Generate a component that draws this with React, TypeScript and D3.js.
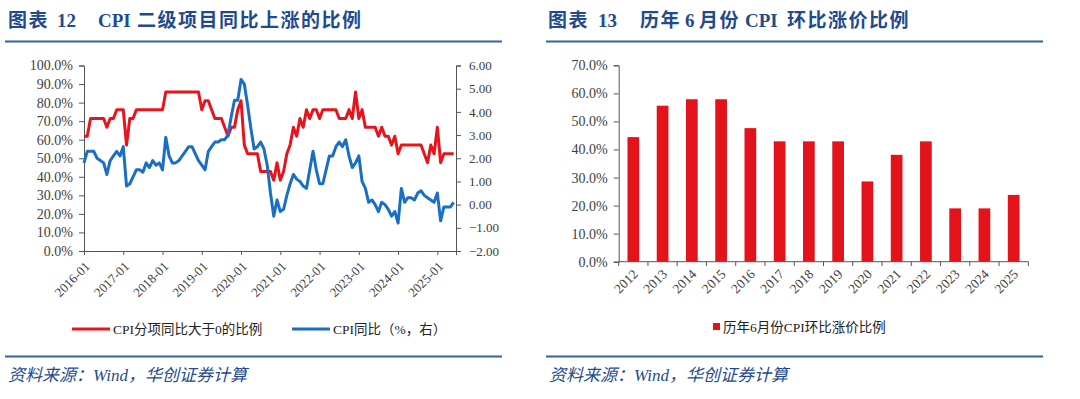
import React, { useEffect, useRef } from "react";
import * as d3 from "d3";

// ---- left chart: share of CPI sub-items with positive yoy (%), monthly from 2016-01
const share2016 = [61.9, 61.9, 71.4, 71.4, 71.4, 71.4, 71.4, 66.7, 71.4, 71.4, 76.2, 76.2];
const share2017 = [76.2, 57.1, 71.4, 71.4, 76.2, 76.2, 76.2, 76.2, 76.2, 76.2, 76.2, 76.2];
const share2018 = [76.2, 85.7, 85.7, 85.7, 85.7, 85.7, 85.7, 85.7, 85.7, 85.7, 85.7, 85.7];
const share2019 = [76.2, 81.0, 81.0, 76.2, 71.4, 71.4, 71.4, 66.7, 61.9, 66.7, 66.7, 76.2];
const share2020 = [81.0, 57.1, 52.4, 52.4, 52.4, 52.4, 42.9, 42.9, 42.9, 42.9, 38.1, 47.6];
const share2021 = [38.1, 42.9, 52.4, 57.1, 66.7, 61.9, 71.4, 66.7, 76.2, 71.4, 76.2, 76.2];
const share2022 = [71.4, 76.2, 76.2, 76.2, 76.2, 76.2, 71.4, 71.4, 71.4, 76.2, 71.4, 85.7];
const share2023 = [71.4, 76.2, 66.7, 66.7, 66.7, 66.7, 61.9, 66.7, 61.9, 61.9, 57.1, 61.9];
const share2024 = [52.4, 57.1, 57.1, 57.1, 57.1, 57.1, 57.1, 57.1, 52.4, 47.6, 57.1, 52.4];
const share2025 = [66.7, 47.6, 52.4, 52.4, 52.4, 52.4];

// CPI yoy (%), right axis
const cpi2016 = [1.8, 2.3, 2.3, 2.3, 2.0, 1.9, 1.8, 1.3, 1.9, 2.1, 2.3, 2.1];
const cpi2017 = [2.5, 0.8, 0.9, 1.2, 1.5, 1.5, 1.4, 1.8, 1.6, 1.9, 1.7, 1.8];
const cpi2018 = [1.5, 2.9, 2.1, 1.8, 1.8, 1.9, 2.1, 2.3, 2.5, 2.5, 2.2, 1.9];
const cpi2019 = [1.7, 1.5, 2.3, 2.5, 2.7, 2.7, 2.8, 2.8, 3.0, 3.8, 4.5, 4.5];
const cpi2020 = [5.4, 5.2, 4.3, 3.3, 2.4, 2.5, 2.7, 2.4, 1.7, 0.5, -0.5, 0.2];
const cpi2021 = [-0.3, -0.2, 0.4, 0.9, 1.3, 1.1, 1.0, 0.8, 0.7, 1.5, 2.3, 1.5];
const cpi2022 = [0.9, 0.9, 1.5, 2.1, 2.1, 2.5, 2.7, 2.5, 2.8, 2.1, 1.6, 1.8];
const cpi2023 = [2.1, 1.0, 0.7, 0.1, 0.2, 0.0, -0.3, 0.1, 0.0, -0.2, -0.5, -0.3];
const cpi2024 = [-0.8, 0.7, 0.1, 0.3, 0.3, 0.2, 0.5, 0.6, 0.4, 0.3, 0.2, 0.1];
const cpi2025 = [0.5, -0.7, -0.1, -0.1, -0.1, 0.1];

const xTickLabels = ["2016-01", "2017-01", "2018-01", "2019-01", "2020-01",
  "2021-01", "2022-01", "2023-01", "2024-01", "2025-01"];
const leftTicks = [0, 10, 20, 30, 40, 50, 60, 70, 80, 90, 100];
const rightTicks = [-2, -1, 0, 1, 2, 3, 4, 5, 6];

// ---- right chart: share of CPI items rising mom in June (%)
const years = ["2012", "2013", "2014", "2015", "2016", "2017", "2018",
  "2019", "2020", "2021", "2022", "2023", "2024", "2025"];
const juneShare = [44.4, 55.6, 57.9, 57.9, 47.6, 42.9, 42.9, 42.9, 28.6, 38.1, 42.9, 19.0, 19.0, 23.8];
const barTicks = [0, 10, 20, 30, 40, 50, 60, 70];

const RED = "#e8141c";
const BLUE = "#1a6fc4";
const NAVY = "#1f4b8e";
const AXIS = "#555";
const LABEL = "#404040";
const SERIF = "'Liberation Serif', 'Noto Sans CJK SC', serif";

export default function App() {
  const ref = useRef<SVGSVGElement>(null);

  useEffect(() => {
    const svg = d3.select(ref.current);
    svg.selectAll("*").remove();

    const share = [...share2016, ...share2017, ...share2018, ...share2019, ...share2020,
      ...share2021, ...share2022, ...share2023, ...share2024, ...share2025];
    const cpi = [...cpi2016, ...cpi2017, ...cpi2018, ...cpi2019, ...cpi2020,
      ...cpi2021, ...cpi2022, ...cpi2023, ...cpi2024, ...cpi2025];

    // headers & footers
    const header = (x0: number, parts: [string, number][]) => {
      const t = svg.append("text")
        .attr("y", 27)
        .attr("fill", NAVY)
        .attr("font-family", SERIF)
        .attr("font-weight", "bold")
        .attr("font-size", 19);
      parts.forEach(([s, dx]) => {
        t.append("tspan").attr("x", x0 + dx).attr("letter-spacing", /[A-Z0-9]/.test(s) ? 0 : 1.5).text(s);
      });
    };
    header(8, [["图表", 0], ["12", 49], ["CPI", 90], ["二级项目同比上涨的比例", 129]]);
    header(548, [["图表", 0], ["13", 50], ["历年", 92], ["6", 137], ["月份", 151], ["CPI", 197], ["环比涨价比例", 239]]);

    [[5, 502], [546, 1043]].forEach(([a, b]) => {
      svg.append("line").attr("x1", a).attr("x2", b).attr("y1", 41.5).attr("y2", 41.5)
        .attr("stroke", "#3461a0").attr("stroke-width", 2);
      svg.append("line").attr("x1", a).attr("x2", b).attr("y1", 356.5).attr("y2", 356.5)
        .attr("stroke", "#3461a0").attr("stroke-width", 2);
      svg.append("text").attr("x", a + 3).attr("y", 381)
        .attr("fill", NAVY).attr("font-family", SERIF).attr("font-style", "italic")
        .attr("font-size", 17).text("资料来源：Wind，华创证券计算");
    });

    // ---------- left chart ----------
    const x = d3.scaleLinear().domain([0, 113.7]).range([84, 456]);
    const yL = d3.scaleLinear().domain([0, 100]).range([251, 65.5]);
    const yR = d3.scaleLinear().domain([-2, 6]).range([251, 65.5]);
    const g = svg.append("g");

    const axL = d3.axisLeft(yL).tickValues(leftTicks).tickSize(5).tickPadding(6)
      .tickFormat((d) => d3.format(".1f")(d as number) + "%");
    const axR = d3.axisRight(yR).tickValues(rightTicks).tickSize(5).tickPadding(8)
      .tickFormat((d) => d3.format(".2f")(d as number));
    const axB = d3.axisBottom(x).tickValues(xTickLabels.map((_, i) => i * 12)).tickSize(4)
      .tickFormat((d, i) => xTickLabels[i]);

    g.append("g").attr("class", "big").attr("transform", "translate(84,0)").call(axL);
    g.append("g").attr("transform", "translate(456,0)").call(axR);
    const gb = g.append("g").attr("transform", "translate(0,251)").call(axB);
    gb.selectAll(".tick text")
      .attr("text-anchor", "end")
      .attr("dy", "0.35em")
      .attr("transform", "translate(3,13) rotate(-45)")
      .attr("y", 0);

    const lineShare = d3.line<number>().x((_, i) => x(i)).y((d) => yL(d));
    const lineCpi = d3.line<number>().x((_, i) => x(i)).y((d) => yR(d));
    g.append("path").attr("d", lineShare(share)).attr("fill", "none").attr("stroke", RED)
      .attr("stroke-width", 3).attr("stroke-linejoin", "round");
    g.append("path").attr("d", lineCpi(cpi)).attr("fill", "none").attr("stroke", BLUE)
      .attr("stroke-width", 3).attr("stroke-linejoin", "round");

    // legend
    const lg = svg.append("g").attr("font-family", SERIF).attr("font-size", 13.5).attr("fill", "#222");
    lg.append("line").attr("x1", 72).attr("x2", 110).attr("y1", 329).attr("y2", 329)
      .attr("stroke", RED).attr("stroke-width", 3);
    lg.append("text").attr("x", 113).attr("y", 329).attr("dy", "0.35em").text("CPI分项同比大于0的比例");
    lg.append("line").attr("x1", 292).attr("x2", 330).attr("y1", 329).attr("y2", 329)
      .attr("stroke", BLUE).attr("stroke-width", 3);
    lg.append("text").attr("x", 333).attr("y", 329).attr("dy", "0.35em").text("CPI同比（%，右）");

    // ---------- right chart ----------
    const xb = d3.scaleBand().domain(years).range([618.7, 1028.3]).paddingInner(0.6).paddingOuter(0.3);
    const yb = d3.scaleLinear().domain([0, 70]).range([261.7, 65.3]);
    const h = svg.append("g");

    h.selectAll("rect")
      .data(juneShare)
      .join("rect")
      .attr("x", (_, i) => xb(years[i]) as number)
      .attr("y", (d) => yb(d))
      .attr("width", xb.bandwidth())
      .attr("height", (d) => yb(0) - yb(d))
      .attr("fill", "#e3121b");

    const axBL = d3.axisLeft(yb).tickValues(barTicks).tickSize(5).tickPadding(6)
      .tickFormat((d) => d3.format(".1f")(d as number) + "%");
    h.append("g").attr("class", "big").attr("transform", "translate(618.7,0)").call(axBL);

    const step = xb.step();
    h.append("line").attr("x1", 618.7).attr("x2", 1028.3).attr("y1", 261.7).attr("y2", 261.7)
      .attr("stroke", AXIS);
    d3.range(years.length + 1).forEach((i) => {
      const tx = 618.7 + i * step;
      h.append("line").attr("x1", tx).attr("x2", tx).attr("y1", 261.7).attr("y2", 266)
        .attr("stroke", AXIS);
    });
    h.selectAll("text.year")
      .data(years)
      .join("text")
      .attr("class", "year")
      .attr("text-anchor", "end")
      .attr("dy", "0.35em")
      .attr("transform", (d) => `translate(${(xb(d) as number) + xb.bandwidth() / 2 + 2},${261.7 + 10}) rotate(-45)`)
      .attr("font-family", SERIF)
      .attr("font-size", 13.5)
      .attr("fill", LABEL)
      .text((d) => d);

    const lg2 = svg.append("g").attr("font-family", SERIF).attr("font-size", 13.5).attr("fill", "#222");
    lg2.append("rect").attr("x", 713).attr("y", 323).attr("width", 7).attr("height", 7).attr("fill", "#e3121b");
    lg2.append("text").attr("x", 723).attr("y", 327).attr("dy", "0.35em").text("历年6月份CPI环比涨价比例");

    // axis styling
    svg.selectAll(".domain").attr("stroke", AXIS);
    svg.selectAll(".tick line").attr("stroke", AXIS);
    svg.selectAll(".tick text")
      .attr("font-family", SERIF)
      .attr("font-size", 13)
      .attr("fill", LABEL);
    svg.selectAll(".big .tick text").attr("font-size", 14);
  }, []);

  return (
    <svg
      ref={ref}
      width={1080}
      height={399}
      style={{ position: "absolute", left: 0, top: 0, background: "#fff" }}
    />
  );
}
